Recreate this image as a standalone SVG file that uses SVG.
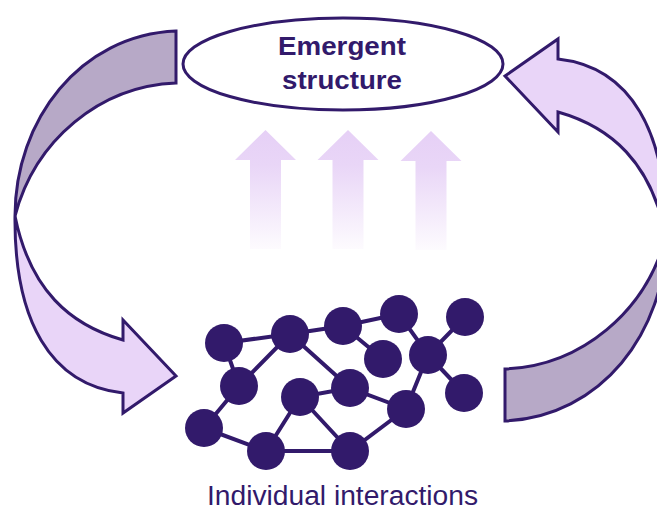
<svg xmlns="http://www.w3.org/2000/svg" width="657" height="511" viewBox="0 0 657 511">
<style>
.ln{stroke:#321a6b;stroke-width:3;stroke-linejoin:miter}
.dark{fill:#b7a9c7}
.light{fill:#e9d5f8}
.nd{fill:#321a6b}
.ed{stroke:#321a6b;stroke-width:4;fill:none}
.t{font-family:"Liberation Sans",Arial,sans-serif;fill:#321a6b;text-anchor:middle}
</style>
<defs>
<linearGradient id="upg" x1="0" y1="0" x2="0" y2="1">
<stop offset="0" stop-color="#e6d0f6"/>
<stop offset="0.3" stop-color="#e9d6f7"/>
<stop offset="1" stop-color="#fdfbfe"/>
</linearGradient>
<path id="up" d="M0,0 L30.5,30 L15.5,30 L15.5,119 L-15.5,119 L-15.5,30 L-30.5,30 Z" fill="url(#upg)"/>
<g id="curl">
<path class="ln dark" d="M176,31 L176,83 C100,86 35,140 15,216 C15,120 80,35 176,31 Z"/>
<path class="ln light" d="M15,216 C14,320 50,385 123,393 L123,413 L176,376 L123,320 L123,340 C70,325 30,290 15,216 Z"/>
</g>
</defs>
<g id="connectors">
<use href="#curl"/>
<use href="#curl" transform="rotate(180 340.5 226)"/>
<use href="#up" x="265.5" y="130"/>
<use href="#up" x="348" y="130"/>
<use href="#up" x="431" y="131"/>
</g>
<g id="emergent-structure">
<ellipse cx="343" cy="64" rx="160" ry="46" fill="#fff" class="ln"/>
<text class="t" x="342" y="55" font-size="26" font-weight="bold" textLength="128" lengthAdjust="spacingAndGlyphs">Emergent</text>
<text class="t" x="342" y="89" font-size="26" font-weight="bold" textLength="120" lengthAdjust="spacingAndGlyphs">structure</text>
</g>
<g id="individual-interactions">
<g id="edges">
<path class="ed" d="M224,343 L290,334 L343,326 L399,314 L428,355 L465,317 M224,343 L239,386 L290,334 L350,388 L406,409 L428,355 L464,393 M343,326 L383,359 M239,386 L204,428 L266,451 L350,451 L406,409 M350,388 L300,397 L266,451 M300,397 L350,451"/>
</g>
<circle class="nd" cx="224" cy="343" r="19"/>
<circle class="nd" cx="290" cy="334" r="19"/>
<circle class="nd" cx="343" cy="326" r="19"/>
<circle class="nd" cx="399" cy="314" r="19"/>
<circle class="nd" cx="465" cy="317" r="19"/>
<circle class="nd" cx="383" cy="359" r="19"/>
<circle class="nd" cx="428" cy="355" r="19"/>
<circle class="nd" cx="239" cy="386" r="19"/>
<circle class="nd" cx="350" cy="388" r="19"/>
<circle class="nd" cx="300" cy="397" r="19"/>
<circle class="nd" cx="406" cy="409" r="19"/>
<circle class="nd" cx="464" cy="393" r="19"/>
<circle class="nd" cx="204" cy="428" r="19"/>
<circle class="nd" cx="266" cy="451" r="19"/>
<circle class="nd" cx="350" cy="451" r="19"/>
<text class="t" x="342.5" y="505" font-size="27" textLength="271" lengthAdjust="spacingAndGlyphs">Individual interactions</text>
</g>
</svg>
